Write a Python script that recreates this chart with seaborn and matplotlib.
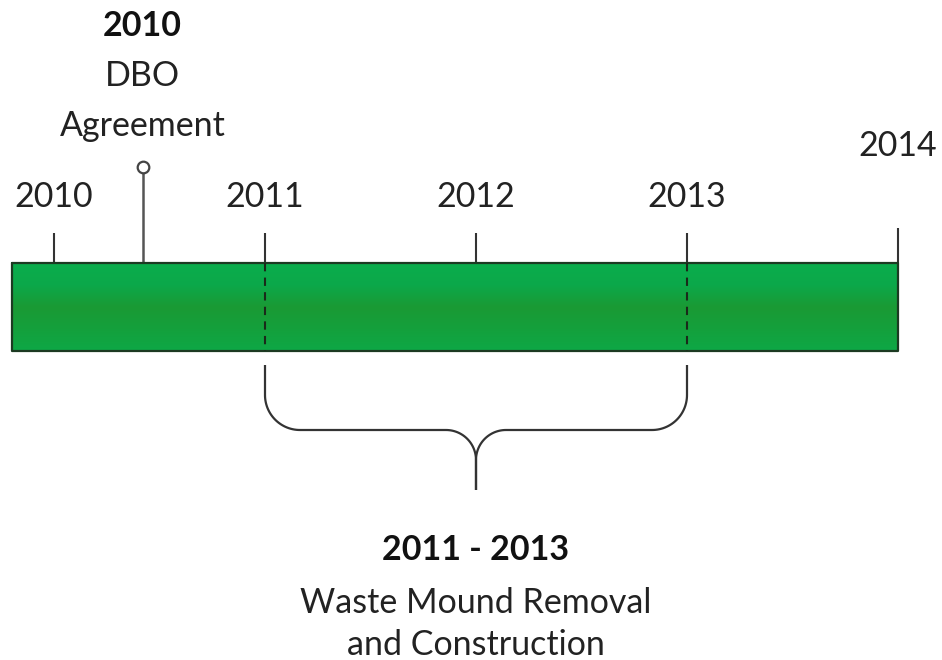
import numpy as np
import seaborn as sns
import matplotlib.pyplot as plt
from matplotlib.colors import LinearSegmentedColormap

# timeline data
tick_years = [2010, 2011, 2012, 2013]
end_year = 2014
bar_start, bar_end = 2009.80, 2014.0
milestone_year = 2010.42
milestone_text = ["2010", "DBO", "Agreement"]
phase_start, phase_end = 2011, 2013
phase_text = ["2011 - 2013", "Waste Mound Removal", "and Construction"]

sns.set_theme(style="white")
plt.rcParams["font.family"] = ["Lato", "DejaVu Sans"]

fig = plt.figure(figsize=(9.42, 6.6), dpi=100)
ax = fig.add_axes([0, 0, 1, 1])
px_per_year = 211.0
x0 = 2010 - 54 / px_per_year
ax.set_xlim(x0, x0 + 942 / px_per_year)
ax.set_ylim(660, 0)   # y in pixel units, top-down
ax.axis("off")

def px(v):
    return v / px_per_year

line_col = "#333333"
fs = 24.5

# green bar with vertical gradient
bar_top, bar_bot = 263, 351
cmap = LinearSegmentedColormap.from_list("g", ["#0aad4c", "#0ca84a", "#1a9a34", "#14a03c", "#0ea846"])
grad = np.linspace(0, 1, 100).reshape(-1, 1)
ax.imshow(grad, cmap=cmap, aspect="auto", extent=[bar_start, bar_end, bar_bot, bar_top], zorder=1)
ax.plot([bar_start, bar_end, bar_end, bar_start, bar_start],
        [bar_top, bar_top, bar_bot, bar_bot, bar_top], color="#1c3a22", lw=1.6, zorder=3)

# year ticks
ax.vlines(tick_years, 233, bar_top, color=line_col, lw=1.5, zorder=2)
ax.vlines([end_year], 228, bar_top, color=line_col, lw=1.5, zorder=2)
for y in tick_years:
    ax.text(y, 197, str(y), ha="center", va="center", fontsize=fs, color="#222222")
ax.text(end_year, 146, str(end_year), ha="center", va="center", fontsize=fs, color="#222222")

# dashed phase lines inside bar
ax.vlines([phase_start, phase_end], bar_top, bar_bot, color="#1a2a1a", lw=1.5,
          linestyles=(0, (4, 3)), zorder=4)

# milestone pin
ax.vlines([milestone_year], 171, bar_top, color="#555555", lw=1.8, zorder=2)
sns.scatterplot(x=[milestone_year], y=[166.5], ax=ax, s=70, marker="o",
                facecolor="white", edgecolor="#444444", linewidth=1.6, zorder=5)
ax.text(milestone_year, 26, milestone_text[0], ha="center", va="center",
        fontsize=fs, fontweight="bold", color="#111111")
for i, t in enumerate(milestone_text[1:]):
    ax.text(milestone_year, 76 + 50 * i, t, ha="center", va="center", fontsize=fs, color="#222222")

# curly brace under the phase
def arc(cx, cy, r, a0, a1, n=30):
    th = np.radians(np.linspace(a0, a1, n))
    return [x0 + px(cx + r * np.cos(t)) for t in th], [cy + r * np.sin(t) for t in th]

L = (phase_start - x0) * px_per_year
R = (phase_end - x0) * px_per_year
C = (L + R) / 2
r1, r2 = 35, 30
y_top, y_h, y_tip = 365, 430, 490
xs, ys = [x0 + px(L)], [y_top]
a, b = arc(L + r1, y_h - r1, r1, 180, 90); xs += a; ys += b
a, b = arc(C - r2, y_h + r2, r2, 270, 360); xs += a; ys += b
xs.append(x0 + px(C)); ys.append(y_tip)
ax.plot(xs, ys, color=line_col, lw=1.6, solid_capstyle="butt")
xs, ys = [x0 + px(R)], [y_top]
a, b = arc(R - r1, y_h - r1, r1, 0, 90); xs += a; ys += b
a, b = arc(C + r2, y_h + r2, r2, 270, 180); xs += a; ys += b
xs.append(x0 + px(C)); ys.append(y_tip)
ax.plot(xs, ys, color=line_col, lw=1.6, solid_capstyle="butt")

mid = (phase_start + phase_end) / 2
ax.text(mid, 550, phase_text[0], ha="center", va="center", fontsize=fs, fontweight="bold", color="#111111")
ax.text(mid, 603, phase_text[1], ha="center", va="center", fontsize=fs, color="#222222")
ax.text(mid, 645, phase_text[2], ha="center", va="center", fontsize=fs, color="#222222")

fig.savefig("out.png", dpi=100)
